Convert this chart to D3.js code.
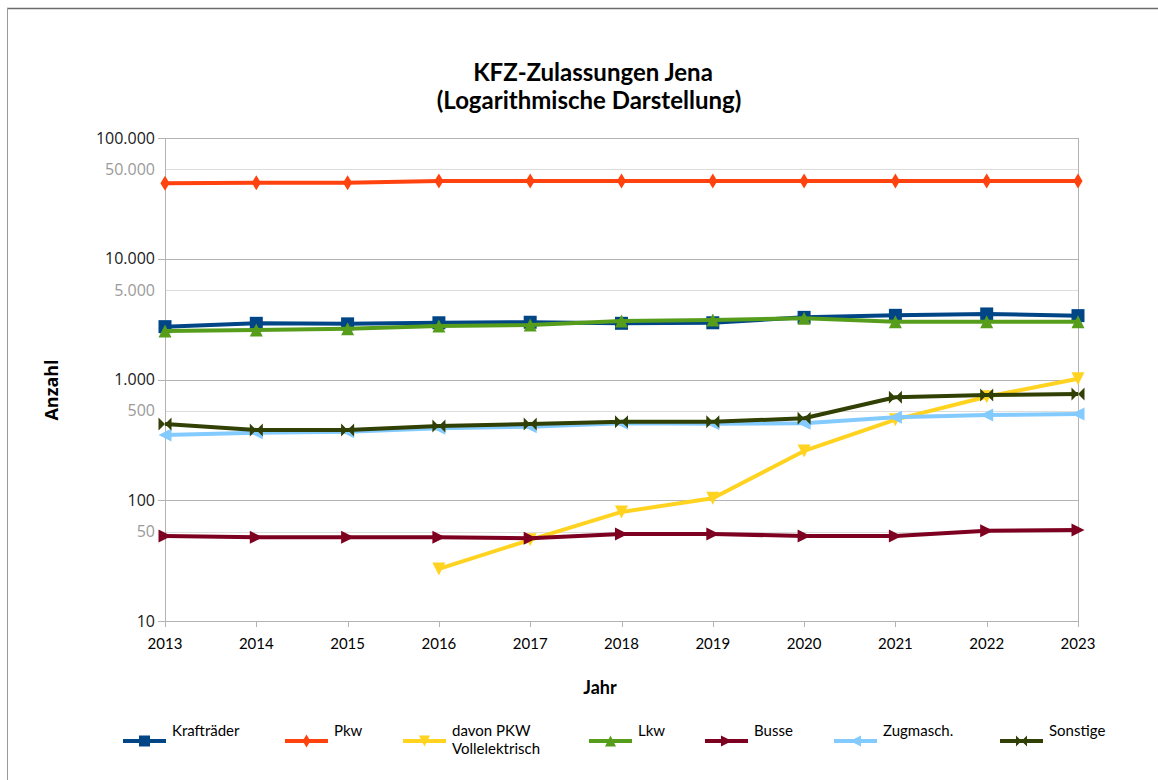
<!DOCTYPE html>
<html>
<head>
<meta charset="utf-8">
<script src="https://cdn.jsdelivr.net/npm/d3@7"></script>
<style>
  body { margin: 0; background: #fff; }
  svg { display: block; }
</style>
</head>
<body>
<svg width="1158" height="780"></svg>
<script>
// Werte
var years = [2013, 2014, 2015, 2016, 2017, 2018, 2019, 2020, 2021, 2022, 2023];
var kraftraeder = [2740, 2920, 2890, 2950, 2980, 2920, 2950, 3270, 3400, 3490, 3380];
var pkw = [42150, 42650, 42650, 44000, 44000, 44000, 44000, 44000, 44000, 44000, 44000];
var pkwElektro = [null, null, null, 27, 47, 80, 104, 256, 465, 720, 1015];
var lkw = [2520, 2570, 2635, 2775, 2825, 3050, 3110, 3210, 3010, 3010, 3010];
var busse = [50.6, 49.3, 49.3, 49.3, 48.4, 52.5, 52.5, 50.6, 50.6, 56, 56.7];
var zugmasch = [347, 362, 370, 394, 407, 434, 430, 434, 486, 508, 518];
var sonstige = [428, 382, 382, 412, 428, 447, 447, 477, 712, 744, 759];

var majorTicks = [10, 100, 1000, 10000, 100000];
var minorTicks = [55, 550, 5500, 55000];
var minorLabels = ["50", "500", "5.000", "50.000"];

var series = [
  { name: "Krafträder", values: kraftraeder, color: "#004586", marker: "square" },
  { name: "Pkw", values: pkw, color: "#ff420e", marker: "diamond" },
  { name: "davon PKW|Vollelektrisch", values: pkwElektro, color: "#ffd320", marker: "down" },
  { name: "Lkw", values: lkw, color: "#579d1c", marker: "up" },
  { name: "Busse", values: busse, color: "#7e0021", marker: "right" },
  { name: "Zugmasch.", values: zugmasch, color: "#83caff", marker: "left" },
  { name: "Sonstige", values: sonstige, color: "#314004", marker: "bowtie" }
];
var legendX = [123, 285, 403, 589, 705, 834, 1000];

var de = d3.formatLocale({ decimal: ",", thousands: ".", grouping: [3], currency: ["", " €"] });
var fmt = de.format(",d");

var svg = d3.select("svg");

// Rahmen
svg.append("line").attr("x1", 7).attr("x2", 1158).attr("y1", 8.5).attr("y2", 8.5)
  .attr("stroke", "#6b6b6b").attr("stroke-width", 1.5);
svg.append("line").attr("x1", 7.5).attr("x2", 7.5).attr("y1", 8).attr("y2", 780)
  .attr("stroke", "#9a9a9a").attr("stroke-width", 1);

var x = d3.scaleLinear().domain([2013, 2023]).range([165, 1078]);
var y = d3.scaleLog().domain([10, 100000]).range([621, 138]);

// Gitter
svg.selectAll(".minor").data(minorTicks).enter().append("line")
  .attr("x1", 165).attr("x2", 1078)
  .attr("y1", function(d) { return Math.round(y(d)) + 0.5; })
  .attr("y2", function(d) { return Math.round(y(d)) + 0.5; })
  .attr("stroke", "#dddddd").attr("stroke-width", 1);
svg.selectAll(".major").data(majorTicks).enter().append("line")
  .attr("x1", 158).attr("x2", 1078)
  .attr("y1", function(d) { return Math.round(y(d)) + 0.5; })
  .attr("y2", function(d) { return Math.round(y(d)) + 0.5; })
  .attr("stroke", "#b3b3b3").attr("stroke-width", 1);
svg.append("line").attr("x1", 165.5).attr("x2", 165.5).attr("y1", 138).attr("y2", 627)
  .attr("stroke", "#b3b3b3");
svg.append("line").attr("x1", 1078.5).attr("x2", 1078.5).attr("y1", 138).attr("y2", 627)
  .attr("stroke", "#b3b3b3");

// x-Ticks
svg.selectAll(".xtick").data(years).enter().append("line")
  .attr("x1", function(d) { return Math.round(x(d)) + 0.5; })
  .attr("x2", function(d) { return Math.round(x(d)) + 0.5; })
  .attr("y1", 621).attr("y2", 627).attr("stroke", "#b3b3b3");

svg.selectAll(".xlab").data(years).enter().append("text")
  .attr("x", function(d) { return x(d); }).attr("y", 649)
  .attr("text-anchor", "middle")
  .style("font-family", "Lato, 'Open Sans', sans-serif").style("font-size", "15px")
  .attr("fill", "#000").text(function(d) { return d; });

// y-Beschriftung
svg.selectAll(".ylab").data(majorTicks).enter().append("text")
  .attr("x", 155).attr("y", function(d) { return y(d) + 5.5; })
  .attr("text-anchor", "end")
  .style("font-family", "'Open Sans', sans-serif").style("font-size", "16px")
  .attr("fill", "#1a1a1a").text(function(d) { return fmt(d); });
svg.selectAll(".ylabm").data(minorTicks).enter().append("text")
  .attr("x", 155).attr("y", function(d) { return y(d) + 5.5; })
  .attr("text-anchor", "end")
  .style("font-family", "'Open Sans', sans-serif").style("font-size", "16px")
  .attr("fill", "#9a9a9a").text(function(d, i) { return minorLabels[i]; });

// Titel
var title = svg.append("text").attr("text-anchor", "middle")
  .style("font-family", "Lato, 'Open Sans', sans-serif").style("font-size", "24px")
  .style("font-weight", "bold").attr("fill", "#000");
title.append("tspan").attr("x", 593).attr("y", 81).text("KFZ-Zulassungen Jena");
title.append("tspan").attr("x", 589).attr("y", 109).text("(Logarithmische Darstellung)");

svg.append("text").attr("x", 600).attr("y", 694).attr("text-anchor", "middle")
  .style("font-family", "Lato, 'Open Sans', sans-serif").style("font-size", "18px")
  .style("font-weight", "bold").text("Jahr");
svg.append("text").attr("transform", "translate(58,390) rotate(-90)")
  .attr("text-anchor", "middle")
  .style("font-family", "'Open Sans', sans-serif").style("font-size", "18px")
  .style("font-weight", "bold").text("Anzahl");

function markerPath(type, s) {
  if (type == "square") return "M" + (-s) + "," + (-s) + "h" + 2 * s + "v" + 2 * s + "h" + (-2 * s) + "Z";
  if (type == "diamond") return "M0," + (-s - 1) + "L" + (s * 0.7) + ",0L0," + (s + 1) + "L" + (-s * 0.7) + ",0Z";
  if (type == "down") return "M" + (-s) + "," + (-s) + "L" + s + "," + (-s) + "L0," + s + "Z";
  if (type == "up") return "M0," + (-s) + "L" + s + "," + s + "L" + (-s) + "," + s + "Z";
  if (type == "right") return "M" + (-s) + "," + (-s) + "L" + s + ",0L" + (-s) + "," + s + "Z";
  if (type == "left") return "M" + s + "," + (-s) + "L" + (-s) + ",0L" + s + "," + s + "Z";
  return "M" + (-s) + "," + (-s) + "L0,0L" + (-s) + "," + s + "ZM" + s + "," + (-s) + "L0,0L" + s + "," + s + "Z";
}

var line = d3.line()
  .defined(function(d) { return d != null; })
  .x(function(d, i) { return x(years[i]); })
  .y(function(d) { return y(d); });

series.forEach(function(s) {
  var g = svg.append("g");
  g.append("path").attr("d", line(s.values)).attr("fill", "none")
    .attr("stroke", s.color).attr("stroke-width", 4).attr("stroke-linejoin", "round");
  var pts = s.values.map(function(v, i) { return [years[i], v]; })
    .filter(function(d) { return d[1] != null; });
  g.selectAll("path.m").data(pts).enter().append("path").attr("class", "m")
    .attr("transform", function(d) { return "translate(" + x(d[0]) + "," + y(d[1]) + ")"; })
    .attr("d", markerPath(s.marker, 6.5)).attr("fill", s.color);
});

// Legende
series.forEach(function(s, i) {
  var lx = legendX[i];
  svg.append("line").attr("x1", lx).attr("x2", lx + 43).attr("y1", 741).attr("y2", 741)
    .attr("stroke", s.color).attr("stroke-width", 4);
  svg.append("path").attr("transform", "translate(" + (lx + 21.5) + ",741)")
    .attr("d", markerPath(s.marker, 5.5)).attr("fill", s.color);
  var t = svg.append("text").attr("x", lx + 49).attr("y", 736)
    .style("font-family", "Lato, 'Open Sans', sans-serif").style("font-size", "15px")
    .attr("fill", "#000");
  s.name.split("|").forEach(function(part, k) {
    t.append("tspan").attr("x", lx + 49).attr("y", 736 + k * 18).text(part);
  });
});
</script>
</body>
</html>
